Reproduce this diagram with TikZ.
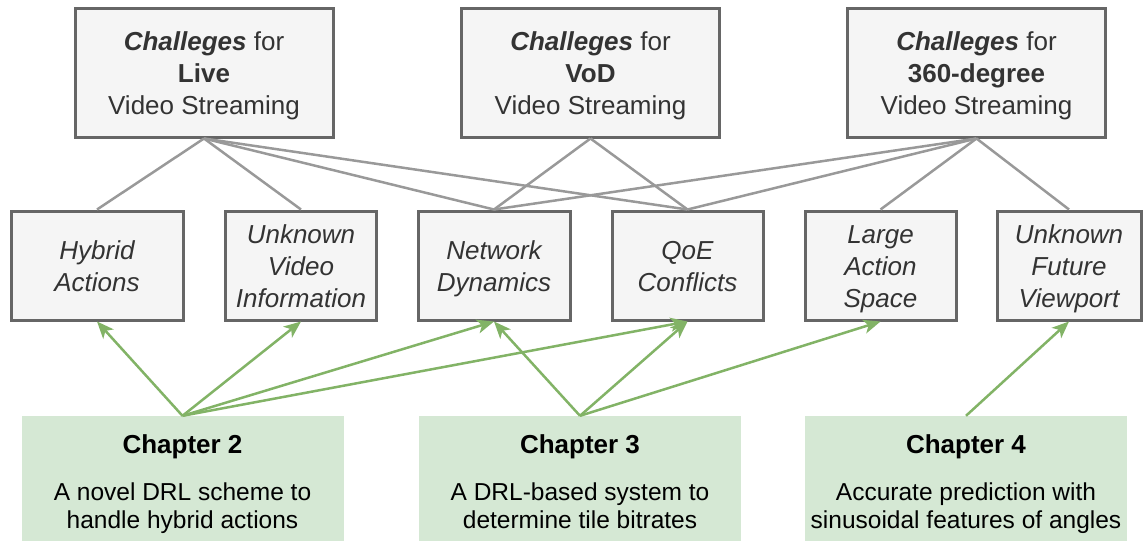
\documentclass[tikz,border=0pt]{standalone}
\usepackage{fontspec}
\setmainfont{Liberation Sans}
\usetikzlibrary{arrows.meta}
\definecolor{boxfill}{HTML}{F5F5F5}
\definecolor{boxline}{HTML}{666666}
\definecolor{boxtext}{HTML}{333333}
\definecolor{linkgray}{HTML}{999999}
\definecolor{chapfill}{HTML}{D5E8D4}
\definecolor{chapline}{HTML}{82B366}
% fixed line box so that every label is centred the same way
\newcommand\lnbox{\rule[-6pt]{0pt}{31pt}}

\begin{document}
\begin{tikzpicture}[x=1pt,y=-1pt,
  challenge/.style={draw=boxline, fill=boxfill, line width=3pt, text=boxtext,
    inner sep=0pt, align=center, font=\fontsize{26}{32}\selectfont,
    minimum width=258pt, minimum height=129pt},
  issue/.style={draw=boxline, fill=boxfill, line width=3pt, text=boxtext,
    inner sep=0pt, align=center, font=\fontsize{26}{32}\selectfont\itshape,
    minimum height=109pt},
  chapter/.style={fill=chapfill, inner sep=0pt, minimum width=322pt, minimum height=125pt},
  chaptitle/.style={anchor=base, inner sep=0pt, font=\fontsize{26}{32}\selectfont\bfseries},
  chapbody/.style={anchor=base, inner sep=0pt, font=\fontsize{24.5}{28}\selectfont},
  link/.style={draw=linkgray, line width=2.5pt},
  solves/.style={draw=chapline, line width=2.5pt,
    -{Stealth[length=17pt,width=14pt,inset=4.5pt]}},
]
\useasboundingbox (0,0) rectangle (1143,541);

% streaming scenarios
\node[challenge] (live) at (204,72.5) {\lnbox\textbf{\textit{Challeges}} for\\\textbf{Live}\\\lnbox Video Streaming};
\node[challenge] (vod)  at (590.5,72.5) {\lnbox\textbf{\textit{Challeges}} for\\\textbf{VoD}\\\lnbox Video Streaming};
\node[challenge] (deg)  at (976.5,72.5) {\lnbox\textbf{\textit{Challeges}} for\\\textbf{360-degree}\\\lnbox Video Streaming};

% individual challenges
\node[issue, minimum width=172pt] (hyb) at (97,265.5)   {\lnbox Hybrid\\\lnbox Actions};
\node[issue, minimum width=151pt] (uvi) at (301,265.5)  {\lnbox Unknown\\Video\\\lnbox Information};
\node[issue, minimum width=152pt] (net) at (494,265.5)  {\lnbox Network\\\lnbox Dynamics};
\node[issue, minimum width=151pt] (qoe) at (687.5,265.5){\lnbox QoE\\\lnbox Conflicts};
\node[issue, minimum width=151pt] (las) at (880.5,265.5){\lnbox Large\\Action\\\lnbox Space};
\node[issue, minimum width=144pt] (ufv) at (1069,265.5) {\lnbox Unknown\\Future\\\lnbox Viewport};

% thesis chapters
\node[chapter] (ch2) at (182.5,478.5) {};
\node[chapter] (ch3) at (580,478.5) {};
\node[chapter] (ch4) at (966,478.5) {};
\node[chaptitle] (ch2t) at (182.5,453) {Chapter 2};
\node[chapbody]  (ch2a) at (182.5,500) {A novel DRL scheme to};
\node[chapbody]  (ch2b) at (182.5,528) {handle hybrid actions};
\node[chaptitle] (ch3t) at (580,453) {Chapter 3};
\node[chapbody]  (ch3a) at (580,500) {A DRL-based system to};
\node[chapbody]  (ch3b) at (580,528) {determine tile bitrates};
\node[chaptitle] (ch4t) at (966,453) {Chapter 4};
\node[chapbody]  (ch4a) at (966,500) {Accurate prediction with};
\node[chapbody]  (ch4b) at (966,528) {sinusoidal features of angles};

% scenario -> challenge links
\draw[link] (live.south) -- (hyb.north);
\draw[link] (live.south) -- (uvi.north);
\draw[link] (live.south) -- (net.north);
\draw[link] (live.south) -- (qoe.north);
\draw[link] (vod.south) -- (net.north);
\draw[link] (vod.south) -- (qoe.north);
\draw[link] (deg.south) -- (net.north);
\draw[link] (deg.south) -- (qoe.north);
\draw[link] (deg.south) -- (las.north);
\draw[link] (deg.south) -- (ufv.north);

% chapter -> challenge arrows
\draw[solves] (ch2.north) -- (hyb.south);
\draw[solves] (ch2.north) -- (uvi.south);
\draw[solves] (ch2.north) -- (net.south);
\draw[solves] (ch2.north) -- (qoe.south);
\draw[solves] (ch3.north) -- (net.south);
\draw[solves] (ch3.north) -- (qoe.south);
\draw[solves] (ch3.north) -- (las.south);
\draw[solves] (ch4.north) -- (ufv.south);
\end{tikzpicture}
\end{document}
